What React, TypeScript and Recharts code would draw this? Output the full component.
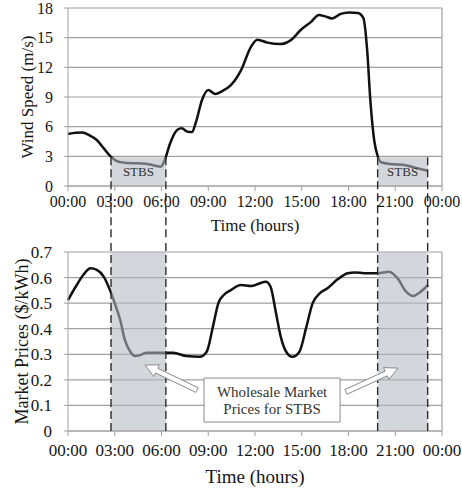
import React from "react";
import {
  LineChart,
  Line,
  XAxis,
  YAxis,
  CartesianGrid,
  ReferenceArea,
  ReferenceLine,
  Label,
} from "recharts";

// time axis
const TICK_HOURS = [0, 3, 6, 9, 12, 15, 18, 21, 24];
const TIME_LABELS = ["00:00", "03:00", "06:00", "09:00", "12:00", "15:00", "18:00", "21:00", "00:00"];

// wind speed (m/s)
const WIND_HOURS = [
  0, 0.5, 0.9, 1.4, 1.85, 2.3, 2.7, 3.1, 3.6, 4.2, 4.7, 5.2, 5.6, 5.95, 6.2, 6.55, 7.0, 7.3, 7.65, 7.95,
  8.2, 8.6, 9.0, 9.45, 9.9, 10.45, 11.1, 11.75, 12.15, 12.8, 13.6, 14.3, 14.95, 15.6, 16.1, 16.5, 16.95,
  17.5, 18.05, 18.6, 18.95, 19.2, 19.4, 19.65, 19.88, 20.1, 20.7, 21.6, 22.4, 23.08,
];
const WIND_SPEED = [
  5.26, 5.38, 5.4, 5.1, 4.65, 3.8, 3.05, 2.55, 2.36, 2.3, 2.28, 2.2, 2.05, 1.95, 2.6, 4.3, 5.66, 5.83, 5.5, 5.45,
  6.4, 8.7, 9.7, 9.3, 9.6, 10.2, 11.7, 14.1, 14.8, 14.5, 14.35, 14.75, 15.8, 16.6, 17.3, 17.15, 16.95,
  17.4, 17.55, 17.5, 17.0, 13.7, 8.7, 4.6, 3.0, 2.4, 2.22, 2.12, 1.8, 1.55,
];
const WIND_TICKS = [0, 3, 6, 9, 12, 15, 18];

// market prices ($/kWh)
const PRICE_HOURS = [
  0, 0.55, 1.0, 1.45, 1.85, 2.3, 2.7, 3.0, 3.35, 3.65, 4.0, 4.3, 4.65, 5.05, 5.9, 6.75, 7.6, 8.45, 8.9, 9.3,
  9.65, 10.0, 10.45, 11.1, 11.75, 12.2, 12.7, 13.0, 13.35, 13.65, 14.0, 14.4, 14.85, 15.3, 15.7, 16.15,
  16.65, 17.3, 17.95, 18.4, 19.0, 19.9, 20.6, 21.15, 21.7, 22.15, 22.55, 23.1,
];
const PRICES = [
  0.512, 0.57, 0.612, 0.636, 0.63, 0.603, 0.55, 0.5, 0.434, 0.356, 0.31, 0.293, 0.297, 0.306, 0.306, 0.306,
  0.293, 0.29, 0.31, 0.408, 0.5, 0.532, 0.551, 0.571, 0.567, 0.575, 0.584, 0.564, 0.46, 0.369, 0.31, 0.29,
  0.31, 0.408, 0.5, 0.538, 0.558, 0.593, 0.617, 0.62, 0.617, 0.617, 0.623, 0.597, 0.545, 0.528, 0.541, 0.571,
];
const PRICE_TICKS = [0, 0.1, 0.2, 0.3, 0.4, 0.5, 0.6, 0.7];

// STBS windows (hours)
const STBS = [
  [2.76, 6.28],
  [19.87, 23.08],
];

const windData = WIND_HOURS.map((h, i) => ({ h, v: WIND_SPEED[i] }));
const priceData = PRICE_HOURS.map((h, i) => ({ h, v: PRICES[i] }));

const FONT = "Liberation Serif, Times New Roman, serif";
const INK = "#151515";
const GRID = "#a0a0a0";
const SHADE = "#b3b9c0";
const DASH = "#2b2b2b";

const fmtTime = (h: number) => TIME_LABELS[TICK_HOURS.indexOf(h)] ?? "";

function xTitle(size: number, drop: number) {
  return (props: any) => {
    const vb = props.viewBox;
    return (
      <text
        x={vb.x + vb.width / 2}
        y={vb.y + drop}
        textAnchor="middle"
        style={{ fontFamily: FONT, fontSize: size }}
        fill={INK}
      >
        Time (hours)
      </text>
    );
  };
}

function yTitle(text: string, size: number, cx: number) {
  return (props: any) => {
    const vb = props.viewBox;
    const cy = vb.y + vb.height / 2;
    return (
      <text
        x={cx}
        y={cy}
        transform={`rotate(-90 ${cx} ${cy})`}
        textAnchor="middle"
        dominantBaseline="central"
        style={{ fontFamily: FONT, fontSize: size }}
        fill={INK}
      >
        {text}
      </text>
    );
  };
}

// hollow block arrow from (x1,y1) to tip (x2,y2)
function HollowArrow(props: any) {
  const { x1, y1, x2, y2 } = props;
  const dx = x2 - x1;
  const dy = y2 - y1;
  const len = Math.sqrt(dx * dx + dy * dy) || 1;
  const ux = dx / len;
  const uy = dy / len;
  const nx = -uy;
  const ny = ux;
  const sw = 2.6;
  const hw = 6.5;
  const hl = 13;
  const bx = x2 - ux * hl;
  const by = y2 - uy * hl;
  const pts = [
    [x1 + nx * sw, y1 + ny * sw],
    [bx + nx * sw, by + ny * sw],
    [bx + nx * hw, by + ny * hw],
    [x2, y2],
    [bx - nx * hw, by - ny * hw],
    [bx - nx * sw, by - ny * sw],
    [x1 - nx * sw, y1 - ny * sw],
  ]
    .map((p) => p.join(","))
    .join(" ");
  return <polygon points={pts} fill="#fff" stroke="#8a8a8a" strokeWidth={1} />;
}

function NoteLabel(props: any) {
  const vb = props.viewBox;
  const cx = vb.x + vb.width / 2;
  const cy = vb.y + vb.height / 2;
  return (
    <g style={{ fontFamily: FONT, fontSize: 15 }} fill="#333" textAnchor="middle">
      <text x={cx} y={cy - 3}>Wholesale Market</text>
      <text x={cx} y={cy + 14}>Prices for STBS</text>
    </g>
  );
}

const tickTop = { fill: INK, fontSize: 16, fontFamily: FONT, style: { fontFamily: FONT } };
const tickBot = { fill: INK, fontSize: 17, fontFamily: FONT, style: { fontFamily: FONT } };

export default function App() {
  return (
    <div
      style={{
        position: "absolute",
        left: 0,
        top: 0,
        width: 462,
        height: 496,
        background: "#fff",
        fontFamily: FONT,
      }}
    >
      <LineChart width={462} height={240} data={windData} margin={{ top: 8, right: 20, bottom: 0, left: 0 }}>
        <CartesianGrid vertical={false} stroke={GRID} strokeWidth={1.2} />
        <XAxis
          dataKey="h"
          type="number"
          domain={[0, 24]}
          ticks={TICK_HOURS}
          interval={0}
          tickFormatter={fmtTime}
          height={54}
          tickSize={5}
          tickMargin={5}
          stroke={GRID}
          tick={tickTop}
        >
          <Label content={xTitle(17, 45)} />
        </XAxis>
        <YAxis
          type="number"
          domain={[0, 18]}
          ticks={WIND_TICKS}
          interval={0}
          width={68}
          tickSize={4}
          tickMargin={11}
          stroke={GRID}
          tick={tickTop}
        >
          <Label content={yTitle("Wind Speed (m/s)", 17, 27)} />
        </YAxis>
        <ReferenceLine x={24} stroke={GRID} strokeWidth={1.2} />
        <Line
          dataKey="v"
          type="monotone"
          stroke="#111"
          strokeWidth={2.5}
          dot={false}
          activeDot={false}
          isAnimationActive={false}
        />
        {STBS.map(([a, b], i) => (
          <ReferenceArea
            key={"ta" + i}
            x1={a}
            x2={b}
            y1={0}
            y2={2.9}
            fill={SHADE}
            fillOpacity={0.58}
            stroke="none"
            zIndex={450}
            label={{ value: "STBS", position: "center", fontFamily: FONT, fontSize: 13, fill: "#333" }}
          />
        ))}
        {STBS.flat().map((x, i) => (
          <ReferenceLine
            key={"td" + i}
            segment={[
              { x, y: 2.9 },
              { x, y: -8 },
            ]}
            ifOverflow="visible"
            stroke={DASH}
            strokeWidth={1.4}
            strokeDasharray="8 4"
            zIndex={500}
          />
        ))}
      </LineChart>

      <LineChart width={462} height={256} data={priceData} margin={{ top: 12, right: 20, bottom: 0, left: 0 }}>
        <CartesianGrid vertical={false} stroke={GRID} strokeWidth={1.2} />
        <XAxis
          dataKey="h"
          type="number"
          domain={[0, 24]}
          ticks={TICK_HOURS}
          interval={0}
          tickFormatter={fmtTime}
          height={65}
          tickSize={5}
          tickMargin={8}
          stroke={GRID}
          tick={tickBot}
        >
          <Label content={xTitle(19, 52)} />
        </XAxis>
        <YAxis
          type="number"
          domain={[0, 0.7]}
          ticks={PRICE_TICKS}
          interval={0}
          width={68}
          tickSize={4}
          tickMargin={12}
          stroke={GRID}
          tick={tickBot}
        >
          <Label content={yTitle("Market Prices ($/kWh)", 18, 22)} />
        </YAxis>
        <ReferenceLine x={24} stroke={GRID} strokeWidth={1.2} />
        <Line
          dataKey="v"
          type="monotone"
          stroke="#111"
          strokeWidth={2.5}
          dot={false}
          activeDot={false}
          isAnimationActive={false}
        />
        {STBS.map(([a, b], i) => (
          <ReferenceArea
            key={"ba" + i}
            x1={a}
            x2={b}
            y1={0}
            y2={0.7}
            fill={SHADE}
            fillOpacity={0.58}
            stroke="none"
            zIndex={450}
          />
        ))}
        {STBS.flat().map((x, i) => (
          <ReferenceLine
            key={"bd" + i}
            segment={[
              { x, y: 0 },
              { x, y: 0.8 },
            ]}
            ifOverflow="visible"
            stroke={DASH}
            strokeWidth={1.4}
            strokeDasharray="8 4"
            zIndex={500}
          />
        ))}
        <ReferenceArea
          x1={8.73}
          x2={17.46}
          y1={0.035}
          y2={0.207}
          fill="#fff"
          fillOpacity={1}
          stroke="#8a8a8a"
          strokeWidth={1}
          zIndex={600}
          label={<Label content={NoteLabel} />}
        />
        <ReferenceLine
          segment={[
            { x: 8.28, y: 0.16 },
            { x: 4.94, y: 0.258 },
          ]}
          ifOverflow="visible"
          shape={HollowArrow}
          zIndex={650}
        />
        <ReferenceLine
          segment={[
            { x: 17.84, y: 0.153 },
            { x: 21.18, y: 0.246 },
          ]}
          ifOverflow="visible"
          shape={HollowArrow}
          zIndex={650}
        />
      </LineChart>
    </div>
  );
}
